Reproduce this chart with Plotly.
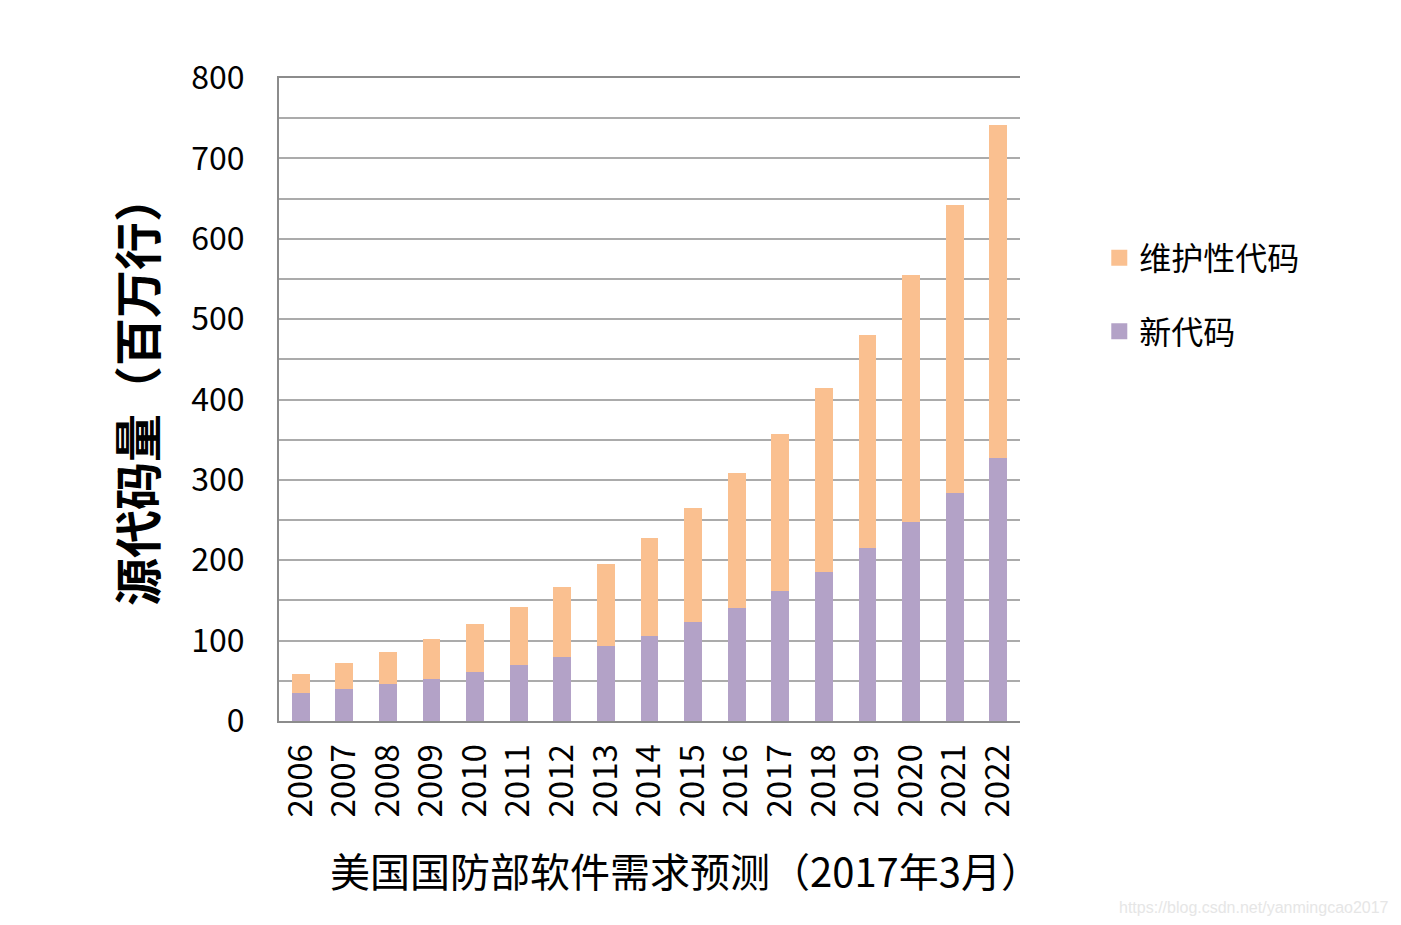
import plotly.graph_objects as go

years = [str(y) for y in range(2006, 2023)]
new_code = [35, 40, 46, 52, 61, 70, 80, 93, 106, 123, 141, 162, 186, 215, 247, 284, 327]
total_code = [59, 72, 86, 102, 121, 142, 167, 195, 228, 265, 308, 357, 414, 480, 555, 642, 741]
maint_code = [t - n for t, n in zip(total_code, new_code)]
y_ticks = list(range(0, 801, 100))

C_MAINT = "#FAC090"
C_NEW = "#B3A2C7"
FONT = "Noto Sans CJK SC"

fig = go.Figure()
fig.add_trace(go.Bar(x=years, y=new_code, name="新代码", marker=dict(color=C_NEW, line=dict(width=0)),
                     showlegend=False))
fig.add_trace(go.Bar(x=years, y=maint_code, name="维护性代码", marker=dict(color=C_MAINT, line=dict(width=0)),
                     showlegend=False))
# legend entries with larger square symbols
fig.add_trace(go.Scatter(x=[None], y=[None], mode="markers", name="维护性代码", legendgroup="a",
                         marker=dict(symbol="square", size=20, color=C_MAINT)))
fig.add_trace(go.Scatter(x=[None], y=[None], mode="markers", name="新代码", legendgroup="b",
                         marker=dict(symbol="square", size=20, color=C_NEW)))

fig.update_layout(
    width=1401, height=925,
    margin=dict(l=271, r=389, t=70, b=212),
    barmode="stack", bargap=0.59,
    plot_bgcolor="white", paper_bgcolor="white",
    font=dict(family=FONT, color="#000000"),
    legend=dict(x=1.107, y=0.763, xanchor="left", yanchor="top", font=dict(size=32, family=FONT),
                traceorder="grouped", tracegroupgap=29, itemwidth=30),
    xaxis=dict(type="category", tickangle=-90, tickfont=dict(size=33, family=FONT),
               showline=True, linecolor="#8C8C8C", linewidth=2, ticks="", ticklabelstandoff=8,
               mirror=True, showgrid=False),
    yaxis=dict(range=[0, 800], tickvals=y_ticks, tickfont=dict(size=32, family=FONT),
               showline=True, linecolor="#8C8C8C", linewidth=2, ticks="", ticklabelstandoff=26,
               showgrid=True, gridcolor="#ABABAB", gridwidth=2, zeroline=False,
               minor=dict(dtick=50, tick0=0, showgrid=True, gridcolor="#ABABAB", gridwidth=2)),
    annotations=[
        dict(text="源代码量（百万行）", x=-0.194, y=0.515, xref="paper", yref="paper", showarrow=False,
             textangle=-90, font=dict(size=48, family=FONT, color="#000", weight="bold"),
             xanchor="center", yanchor="middle"),
        dict(text="美国国防部软件需求预测（2017年3月）", x=0.548, y=-0.232, xref="paper", yref="paper",
             showarrow=False, font=dict(size=40, family=FONT, color="#000"), xanchor="center", yanchor="middle"),
        dict(text="https://blog.csdn.net/yanmingcao2017", x=(1391 - 279) / 741, y=(721 - 907) / 643,
             xref="paper", yref="paper",
             showarrow=False, font=dict(size=16, family="Liberation Sans", color="#E6E6E6"),
             xanchor="right", yanchor="middle"),
    ],
)

fig.write_html("out.html")
